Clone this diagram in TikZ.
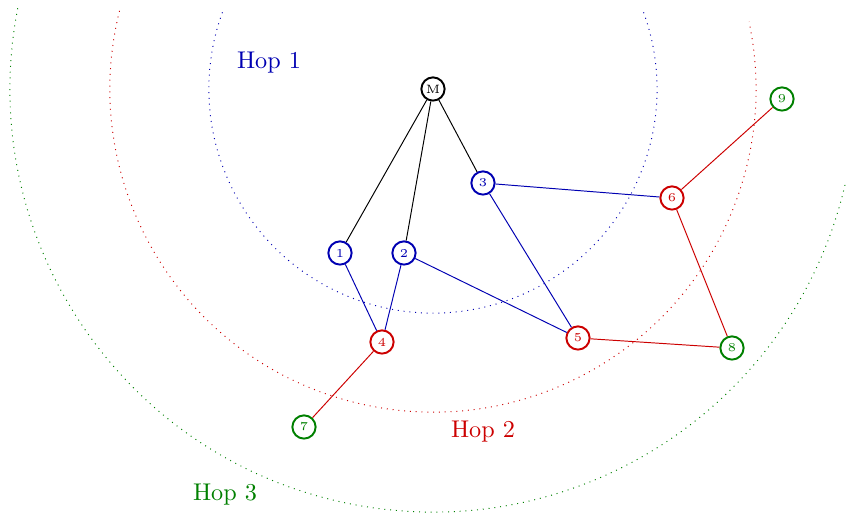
\documentclass[tikz,border=0pt]{standalone}
\usepackage{tikz}
\usetikzlibrary{positioning}

\begin{document}
\begin{tikzpicture}[
  x=0.4132pt, y=0.4132pt,
  sensor/.style={circle, draw, thick, inner sep=0pt, minimum size=9.6pt, font=\tiny},
  hopa/.style={sensor, draw=blue!70!black, text=blue!70!black},
  hopb/.style={sensor, draw=red!80!black, text=red!80!black},
  hopc/.style={sensor, draw=green!50!black, text=green!50!black},
  ring/.style={dotted},
]
  \useasboundingbox (0,0) rectangle (846,515);

  % Hop radii
  \def\ra{92.6pt}
  \def\rb{133.5pt}
  \def\rc{174.8pt}

  % Master node and sensors
  \node[sensor] (M) at (433,426) {M};
  \node[hopa] (n1) at (340,262) {1};
  \node[hopa] (n2) at (404,262) {2};
  \node[hopa] (n3) at (483,332) {3};
  \node[hopb] (n4) at (382,173) {4};
  \node[hopb] (n5) at (578,177) {5};
  \node[hopb] (n6) at (672,317) {6};
  \node[hopc] (n7) at (304,88) {7};
  \node[hopc] (n8) at (732,167) {8};
  \node[hopc] (n9) at (782,416) {9};

  % Hop rings
  \draw[ring, blue!70!black] (M.center) ++(160:\ra)
    arc[start angle=160, end angle=380, radius=\ra];
  \draw[ring, red!80!black] (M.center) ++(166:\rb)
    arc[start angle=166, end angle=372, radius=\rb];
  \draw[ring, green!50!black] (M.center) ++(169:\rc)
    arc[start angle=169, end angle=347, radius=\rc];

  % Links
  \draw (M) -- (n1);
  \draw (M) -- (n2);
  \draw (M) -- (n3);
  \draw[blue!70!black] (n1) -- (n4);
  \draw[blue!70!black] (n2) -- (n4);
  \draw[blue!70!black] (n2) -- (n5);
  \draw[blue!70!black] (n3) -- (n5);
  \draw[blue!70!black] (n3) -- (n6);
  \draw[red!80!black] (n4) -- (n7);
  \draw[red!80!black] (n5) -- (n8);
  \draw[red!80!black] (n6) -- (n8);
  \draw[red!80!black] (n6) -- (n9);

  % Hop labels
  \node[text=blue!70!black] (hop1) at (269,452) {Hop 1};
  \node[text=red!80!black] (hop2) at (483,83) {Hop 2};
  \node[text=green!50!black] (hop3) at (225,20) {Hop 3};
\end{tikzpicture}
\end{document}
